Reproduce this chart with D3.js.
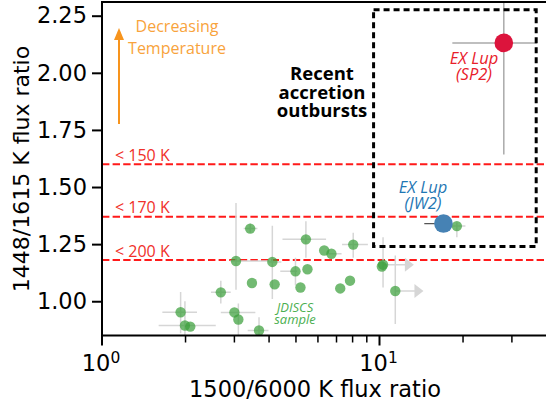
<!doctype html>
<html>
<head>
<meta charset="UTF-8">
<title>flux ratios</title>
<script src="https://d3js.org/d3.v7.min.js"></script>
<style>
  body { margin: 0; background: #fff; }
  text { font-family: "DejaVu Sans", sans-serif; }
</style>
</head>
<body>
<svg width="546" height="404"></svg>
<script>
// JDISCS sample (x = 1500/6000 K ratio, y = 1448/1615 K ratio)
var jdX    = [3.42, 3.04, 3.47, 2.68, 1.92, 3.00, 3.10, 1.99, 2.08, 3.68, 5.43, 6.32, 6.71, 8.04, 4.11, 4.19, 4.98, 5.50, 5.19, 7.22, 7.83, 10.3, 10.2, 11.4, 19.0];
var jdY    = [1.318, 1.176, 1.080, 1.039, 0.952, 0.951, 0.920, 0.894, 0.889, 0.872, 1.271, 1.222, 1.208, 1.248, 1.172, 1.074, 1.131, 1.140, 1.060, 1.056, 1.090, 1.160, 1.152, 1.045, 1.329];
var jdXlo  = [3.24, 2.90, null, 2.47, 1.65, 2.68, null, 1.60, null, 3.35, 4.47, null, 6.53, 7.33, 3.98, null, 4.39, null, null, null, null, null, null, null, 18.0];
var jdXhi  = [3.63, 4.00, null, 2.91, 2.20, 3.57, null, 2.57, null, 3.98, 6.42, null, 7.30, 9.08, 4.43, null, 5.05, null, null, null, null, null, null, null, 20.4];
var jdYlo  = [1.30, 1.05, null, 0.99, 0.86, null, 0.83, 0.85, null, 0.83, 1.19, null, null, 1.19, 1.01, null, 1.07, null, null, null, null, 1.06, null, 0.90, 1.28];
var jdYhi  = [1.34, 1.43, null, 1.09, 1.04, null, 0.99, 1.00, null, 0.93, 1.35, null, null, 1.30, 1.33, null, 1.19, null, null, null, null, 1.28, null, 1.20, 1.345];
var jdLimTo = [null, null, null, null, null, null, null, null, null, null, null, null, null, null, null, null, null, null, null, null, null, 13.3, null, 14.4, null];

// EX Lup
var exNames = ["SP2", "JW2"];
var exX   = [28.05, 17.0];
var exY   = [2.131, 1.340];
var exXlo = [18.3, 14.5];
var exXhi = [36.9, 17.0];
var exYlo = [1.642, null];
var exYhi = [2.40, null];

// temperature thresholds
var tempLabels = ["< 150 K", "< 170 K", "< 200 K"];
var tempY = [1.60, 1.37, 1.18];

// outburst box
var boxX = [9.52, 36.7];
var boxY = [1.24, 2.276];

var yTicks = [1.00, 1.25, 1.50, 1.75, 2.00, 2.25];
var xMajor = [1, 10];
var xMinor = [2, 3, 4, 5, 6, 7, 8, 9, 20, 30];

var L = 102, R = 548, T = 2, B = 335.5;
var svg = d3.select("svg");
var x = d3.scaleLog().domain([1, 40]).range([L, L + 277.5 * Math.log10(40)]);
var y = d3.scaleLinear().domain([0.85, 2.31]).range([B, T]);

svg.append("clipPath").attr("id", "clip")
  .append("rect").attr("x", L).attr("y", T).attr("width", R - L).attr("height", B - T);
var plot = svg.append("g").attr("clip-path", "url(#clip)");

var ann = "'Open Sans', sans-serif";

// threshold lines
tempY.forEach(function(v, i) {
  plot.append("line")
    .attr("x1", L).attr("x2", R).attr("y1", y(v)).attr("y2", y(v))
    .attr("stroke", "#ff1a1a").attr("stroke-width", 2).attr("stroke-dasharray", "7.4,3.2");
  svg.append("text").attr("x", 115).attr("y", y(v) - 3.5)
    .attr("fill", "#f0302a").style("font-family", ann)
    .attr("font-size", 16).text(tempLabels[i]);
});

// error bars
var barCol = "#d6d6d6";
jdX.forEach(function(v, i) {
  if (jdXlo[i] != null) {
    plot.append("line").attr("x1", x(jdXlo[i])).attr("x2", x(jdXhi[i]))
      .attr("y1", y(jdY[i])).attr("y2", y(jdY[i]))
      .attr("stroke", barCol).attr("stroke-width", 1.5);
  }
  if (jdYlo[i] != null) {
    plot.append("line").attr("x1", x(v)).attr("x2", x(v))
      .attr("y1", y(jdYlo[i])).attr("y2", y(jdYhi[i]))
      .attr("stroke", barCol).attr("stroke-width", 1.5);
  }
  if (jdLimTo[i] != null) {
    var tip = x(jdLimTo[i]), yy = y(jdY[i]);
    plot.append("line").attr("x1", x(v)).attr("x2", tip - 8)
      .attr("y1", yy).attr("y2", yy).attr("stroke", barCol).attr("stroke-width", 1.5);
    plot.append("path")
      .attr("d", "M" + tip + "," + yy + "L" + (tip - 9) + "," + (yy - 7) + "L" + (tip - 9) + "," + (yy + 7) + "Z")
      .attr("fill", barCol);
  }
});

// EX Lup bars
plot.append("line").attr("x1", x(exXlo[0])).attr("x2", x(exXhi[0]))
  .attr("y1", y(exY[0])).attr("y2", y(exY[0])).attr("stroke", "#aaa").attr("stroke-width", 1.5);
plot.append("line").attr("x1", x(exX[0])).attr("x2", x(exX[0]))
  .attr("y1", y(exYlo[0])).attr("y2", y(exYhi[0])).attr("stroke", "#aaa").attr("stroke-width", 1.5);
plot.append("line").attr("x1", x(exXlo[1])).attr("x2", x(exXhi[1]))
  .attr("y1", y(exY[1])).attr("y2", y(exY[1])).attr("stroke", "#555").attr("stroke-width", 1.2);

// JDISCS points
plot.selectAll("circle.jd").data(jdX).enter().append("circle")
  .attr("class", "jd")
  .attr("cx", function(d) { return x(d); })
  .attr("cy", function(d, i) { return y(jdY[i]); })
  .attr("r", 5.2)
  .attr("fill", "#3c9f3c").attr("fill-opacity", 0.72);

// outburst box
plot.append("rect")
  .attr("x", x(boxX[0])).attr("y", y(boxY[1]))
  .attr("width", x(boxX[1]) - x(boxX[0])).attr("height", y(boxY[0]) - y(boxY[1]))
  .attr("fill", "none").attr("stroke", "#000").attr("stroke-width", 3)
  .attr("stroke-dasharray", "6,4");

// EX Lup points
var exCol = ["#dc143c", "#4682b4"];
exX.forEach(function(v, i) {
  plot.append("circle").attr("cx", x(v)).attr("cy", y(exY[i])).attr("r", 9.3).attr("fill", exCol[i]);
});

// two-line labels as one text each
function label2(cx, by, gap, lines, size, col, style, weight, fam) {
  var t = svg.append("text").attr("x", cx).attr("y", by).attr("text-anchor", "middle")
    .attr("fill", col).style("font-family", fam || ann).style("font-style", style)
    .attr("font-weight", weight).attr("font-size", size);
  lines.forEach(function(s, i) {
    t.append("tspan").attr("x", cx).attr("dy", i == 0 ? 0 : gap).text(s);
  });
}
label2(474, 64, 16, ["EX Lup", "(" + exNames[0] + ")"], 16.5, "#e8202a", "italic", "normal");
label2(423, 193, 16, ["EX Lup", "(" + exNames[1] + ")"], 16.5, "#1f77b4", "italic", "normal");
label2(295, 312, 12, ["JDISCS", "sample"], 13, "#4caf50", "italic", "normal");
label2(322, 80, 18.5, ["Recent", "accretion", "outbursts"], 18.5, "#000", "normal", "bold");
label2(177, 32, 21.7, ["Decreasing", "Temperature"], 16, "#f8a33c", "normal", "normal");

// temperature arrow
svg.append("line").attr("x1", 119).attr("x2", 119).attr("y1", 124).attr("y2", 38)
  .attr("stroke", "#f7941d").attr("stroke-width", 2);
svg.append("path").attr("d", "M119,28L114,40L124,40Z").attr("fill", "#f7941d");

// axes
var yAxis = d3.axisLeft(y).tickValues(yTicks).tickSize(10).tickPadding(5)
  .tickFormat(d3.format(".2f"));
var gy = svg.append("g").attr("transform", "translate(" + L + ",0)").call(yAxis);
gy.selectAll("text").attr("font-size", 22.5).style("font-family", "'DejaVu Sans'").attr("fill", "#000");
gy.selectAll(".tick line").attr("stroke-width", 2);
gy.select(".domain").remove();

var gx = svg.append("g").attr("transform", "translate(0," + B + ")");
gx.selectAll("line.minor").data(xMinor).enter().append("line")
  .attr("x1", function(d) { return x(d); }).attr("x2", function(d) { return x(d); })
  .attr("y1", 0).attr("y2", 7).attr("stroke", "#000").attr("stroke-width", 1.5);
gx.selectAll("line.major").data(xMajor).enter().append("line")
  .attr("x1", function(d) { return x(d); }).attr("x2", function(d) { return x(d); })
  .attr("y1", 0).attr("y2", 10).attr("stroke", "#000").attr("stroke-width", 2);
var xl = gx.selectAll("text.lab").data(xMajor).enter().append("text")
  .attr("x", function(d) { return x(d) - 1; }).attr("y", 35)
  .attr("text-anchor", "middle").attr("font-size", 22.5).attr("fill", "#000");
xl.append("tspan").text("10");
xl.append("tspan").attr("dy", -8).attr("font-size", 15.5)
  .text(function(d) { return String(Math.round(Math.log10(d))); });

// frame
svg.append("rect").attr("x", L).attr("y", T).attr("width", R - L).attr("height", B - T)
  .attr("fill", "none").attr("stroke", "#000").attr("stroke-width", 2);

svg.append("text").attr("x", 315).attr("y", 397).attr("text-anchor", "middle")
  .attr("font-size", 22.5).attr("fill", "#000").text("1500/6000 K flux ratio");
svg.append("text").attr("transform", "translate(29,169) rotate(-90)").attr("text-anchor", "middle")
  .attr("font-size", 22).attr("fill", "#000").text("1448/1615 K flux ratio");
</script>
</body>
</html>
